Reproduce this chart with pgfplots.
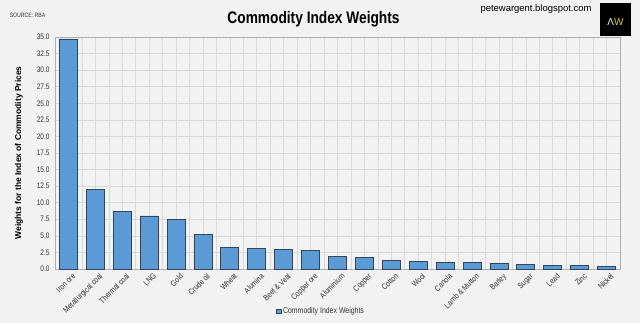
\documentclass[border=0pt]{standalone}
\usepackage{fontspec}
\usepackage{pgfplots}
\pgfplotsset{compat=1.18}
\setmainfont{Liberation Sans}
\newfontfamily\narrow[FakeStretch=0.82]{Liberation Sans}
\definecolor{bg}{HTML}{F2F2F2}
\definecolor{gridc}{HTML}{D9D9D9}
\definecolor{barfill}{HTML}{5B9BD5}
\definecolor{baredge}{HTML}{34445A}
\definecolor{ticktext}{HTML}{333333}
\definecolor{logoyellow}{HTML}{D6D23C}
\begin{document}
\begin{tikzpicture}[x=1bp,y=1bp]
\fill[bg] (0,0) rectangle (640,323);
\begin{axis}[
  at={(55bp,54bp)}, anchor=south west,
  scale only axis, width=565bp, height=232bp,
  xmin=-0.5, xmax=20.5, ymin=0, ymax=35,
  axis background/.style={fill=bg},
  axis line style={draw=gridc!80!black},
  xtick={0,...,20},
  minor xtick={-0.5,0.5,...,20.5},
  ytick={0,2.5,...,35},
  xmajorgrids, xminorgrids, ymajorgrids,
  grid style={draw=gridc, line width=0.6pt},
  minor grid style={draw=gridc, line width=0.6pt},
  major tick length=0pt, minor tick length=0pt,
  xticklabels={Iron ore, Metallurgical coal, Thermal coal, LNG, Gold, Crude oil, Wheat, Alumina, Beef \& Veal, Copper ore, Aluminium, Copper, Cotton, Wool, Canola, Lamb \& Mutton, Barley, Sugar, Lead, Zinc, Nickel},
  xticklabel style={rotate=45, anchor=north east, inner sep=0pt, xshift=0bp, yshift=-5bp, font=\narrow\fontsize{8.2}{9}\selectfont, text=ticktext},
  yticklabel style={/pgf/number format/fixed, /pgf/number format/fixed zerofill, /pgf/number format/precision=1, /pgf/number format/assume math mode=true, font=\narrow\fontsize{8}{9}\selectfont, text=ticktext, xshift=-2bp},
  ylabel={\bfseries Weights for the Index of Commodity Prices},
  ylabel style={font=\fontsize{8.5}{10}\selectfont, at={(-32bp,0.5)}, anchor=south, inner sep=0pt},
  legend style={at={(0.471,-0.181)}, anchor=center, draw=none, fill=none, font=\narrow\fontsize{8.5}{10}\selectfont, text=ticktext, inner sep=0pt},
  legend image code/.code={\draw[fill=barfill, draw=baredge, line width=0.4pt] (0bp,-2.2bp) rectangle (4.4bp,2.2bp);},
]
\addplot[ybar, bar width=18bp, fill=barfill, draw=baredge, line width=0.8pt] coordinates {
(0,34.7) (1,12.0) (2,8.7) (3,8.0) (4,7.5) (5,5.25) (6,3.3) (7,3.05) (8,2.95) (9,2.75) (10,1.95) (11,1.8) (12,1.35) (13,1.2) (14,0.95) (15,0.95) (16,0.8) (17,0.65) (18,0.5) (19,0.5) (20,0.35)
};
\addlegendentry{Commodity Index Weights}
\end{axis}
\node[anchor=base, font=\narrow\bfseries\fontsize{16.8}{18}\selectfont, inner sep=0pt] at (313.5,299.5) {Commodity Index Weights};
\node[anchor=base, font=\fontsize{9.5}{11}\selectfont, inner sep=0pt] at (536,311.5) {petewargent.blogspot.com};
\node[anchor=base, font=\narrow\fontsize{6.3}{7}\selectfont, text=ticktext, inner sep=0pt] at (27.5,305.5) {SOURCE: RBA};
\fill[black] (600,287) rectangle (631,320);
\node[anchor=base, font=\fontsize{10}{11}\selectfont, inner sep=0pt] at (615.5,298) {\textcolor{white}{Λ}\textcolor{logoyellow}{W}};
\pgfresetboundingbox
\path[use as bounding box] (0,0) rectangle (640,323);
\end{tikzpicture}
\end{document}
